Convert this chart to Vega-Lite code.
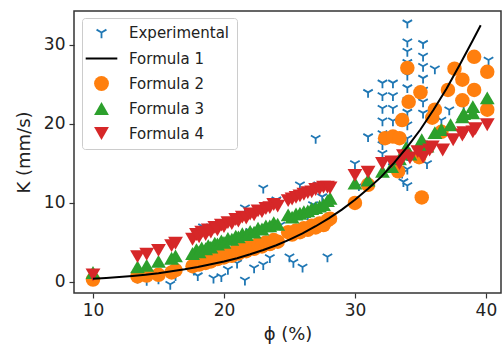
{
"$schema": "https://vega.github.io/schema/vega-lite/v6.json",
"autosize": "none",
"width": 427, "height": 282,
"padding": {"left": 74, "top": 11, "right": 3, "bottom": 57},
"background": "white",
"datasets": {
"exp": [
{"phi":10.0,"K":0.3,"s":"Experimental"},{"phi":13.4,"K":0.5,"s":"Experimental"},{"phi":14.1,"K":0.2,"s":"Experimental"},{"phi":15.0,"K":0.4,"s":"Experimental"},{"phi":15.9,"K":-0.3,"s":"Experimental"},{"phi":16.3,"K":0.8,"s":"Experimental"},
{"phi":17.7,"K":1.5,"s":"Experimental"},{"phi":18.0,"K":0.8,"s":"Experimental"},{"phi":18.4,"K":7.0,"s":"Experimental"},{"phi":18.8,"K":3.2,"s":"Experimental"},{"phi":19.2,"K":0.5,"s":"Experimental"},{"phi":19.5,"K":4.6,"s":"Experimental"},{"phi":19.8,"K":0.7,"s":"Experimental"},
{"phi":20.3,"K":1.6,"s":"Experimental"},{"phi":20.6,"K":5.2,"s":"Experimental"},{"phi":21.0,"K":2.4,"s":"Experimental"},{"phi":21.6,"K":0.25,"s":"Experimental"},{"phi":21.6,"K":9.4,"s":"Experimental"},{"phi":22.0,"K":6.4,"s":"Experimental"},{"phi":22.3,"K":1.8,"s":"Experimental"},
{"phi":22.8,"K":4.6,"s":"Experimental"},{"phi":23.0,"K":11.9,"s":"Experimental"},{"phi":23.0,"K":2.2,"s":"Experimental"},{"phi":23.5,"K":3.1,"s":"Experimental"},{"phi":24.0,"K":10.4,"s":"Experimental"},{"phi":24.3,"K":7.2,"s":"Experimental"},{"phi":25.0,"K":3.2,"s":"Experimental"},
{"phi":25.3,"K":2.5,"s":"Experimental"},{"phi":25.8,"K":12.3,"s":"Experimental"},{"phi":26.0,"K":1.9,"s":"Experimental"},{"phi":26.4,"K":8.5,"s":"Experimental"},{"phi":26.8,"K":9.8,"s":"Experimental"},{"phi":27.0,"K":18.2,"s":"Experimental"},{"phi":27.2,"K":12.3,"s":"Experimental"},
{"phi":27.5,"K":10.8,"s":"Experimental"},{"phi":27.9,"K":3.2,"s":"Experimental"},{"phi":30.0,"K":15.0,"s":"Experimental"},{"phi":30.3,"K":12.2,"s":"Experimental"},{"phi":31.0,"K":18.4,"s":"Experimental"},{"phi":31.0,"K":24.0,"s":"Experimental"},
{"phi":32.1,"K":25.2,"s":"Experimental"},{"phi":32.1,"K":23.6,"s":"Experimental"},{"phi":32.1,"K":22.0,"s":"Experimental"},{"phi":32.1,"K":20.4,"s":"Experimental"},{"phi":32.1,"K":18.8,"s":"Experimental"},{"phi":32.1,"K":17.4,"s":"Experimental"},{"phi":32.1,"K":16.3,"s":"Experimental"},
{"phi":32.9,"K":25.2,"s":"Experimental"},{"phi":32.9,"K":23.6,"s":"Experimental"},{"phi":32.9,"K":22.0,"s":"Experimental"},{"phi":32.9,"K":20.4,"s":"Experimental"},{"phi":32.9,"K":18.6,"s":"Experimental"},{"phi":32.9,"K":14.6,"s":"Experimental"},
{"phi":33.6,"K":13.8,"s":"Experimental"},{"phi":33.7,"K":12.7,"s":"Experimental"},
{"phi":34.0,"K":32.8,"s":"Experimental"},{"phi":34.0,"K":30.4,"s":"Experimental"},{"phi":34.0,"K":29.2,"s":"Experimental"},{"phi":34.0,"K":27.8,"s":"Experimental"},{"phi":34.0,"K":26.2,"s":"Experimental"},{"phi":34.0,"K":24.6,"s":"Experimental"},{"phi":34.0,"K":23.0,"s":"Experimental"},
{"phi":34.0,"K":21.5,"s":"Experimental"},{"phi":34.0,"K":19.9,"s":"Experimental"},{"phi":34.0,"K":18.2,"s":"Experimental"},{"phi":34.0,"K":16.0,"s":"Experimental"},{"phi":34.0,"K":14.3,"s":"Experimental"},{"phi":34.0,"K":12.2,"s":"Experimental"},
{"phi":35.2,"K":30.2,"s":"Experimental"},{"phi":35.2,"K":28.6,"s":"Experimental"},{"phi":35.2,"K":27.3,"s":"Experimental"},{"phi":35.2,"K":25.8,"s":"Experimental"},{"phi":35.2,"K":24.3,"s":"Experimental"},{"phi":35.2,"K":22.8,"s":"Experimental"},{"phi":35.2,"K":21.4,"s":"Experimental"},
{"phi":35.5,"K":15.0,"s":"Experimental"},{"phi":36.1,"K":27.0,"s":"Experimental"},{"phi":36.6,"K":20.5,"s":"Experimental"},{"phi":37.2,"K":21.8,"s":"Experimental"},{"phi":38.3,"K":22.3,"s":"Experimental"},{"phi":40.2,"K":28.1,"s":"Experimental"}
],
"f2": [
{"phi":10.0,"K":0.3,"s":"Formula 2"},{"phi":13.4,"K":0.7,"s":"Formula 2"},{"phi":14.1,"K":0.8,"s":"Formula 2"},{"phi":15.0,"K":0.9,"s":"Formula 2"},{"phi":16.0,"K":1.2,"s":"Formula 2"},{"phi":16.3,"K":1.5,"s":"Formula 2"},
{"phi":17.6,"K":2.0,"s":"Formula 2"},{"phi":17.9,"K":2.6,"s":"Formula 2"},{"phi":18.1,"K":2.2,"s":"Formula 2"},{"phi":18.3,"K":2.7,"s":"Formula 2"},{"phi":18.6,"K":2.4,"s":"Formula 2"},{"phi":18.8,"K":3.0,"s":"Formula 2"},{"phi":19.0,"K":2.6,"s":"Formula 2"},
{"phi":19.3,"K":3.2,"s":"Formula 2"},{"phi":19.5,"K":2.9,"s":"Formula 2"},{"phi":19.8,"K":3.4,"s":"Formula 2"},{"phi":20.0,"K":3.1,"s":"Formula 2"},{"phi":20.3,"K":3.6,"s":"Formula 2"},{"phi":20.6,"K":3.3,"s":"Formula 2"},{"phi":20.9,"K":3.9,"s":"Formula 2"},
{"phi":21.1,"K":3.6,"s":"Formula 2"},{"phi":21.4,"K":4.2,"s":"Formula 2"},{"phi":21.7,"K":3.9,"s":"Formula 2"},{"phi":22.0,"K":4.5,"s":"Formula 2"},{"phi":22.3,"K":4.2,"s":"Formula 2"},{"phi":22.6,"K":4.8,"s":"Formula 2"},{"phi":22.9,"K":4.5,"s":"Formula 2"},
{"phi":23.2,"K":5.0,"s":"Formula 2"},{"phi":23.5,"K":4.8,"s":"Formula 2"},{"phi":23.8,"K":5.3,"s":"Formula 2"},{"phi":24.1,"K":5.1,"s":"Formula 2"},{"phi":24.9,"K":6.3,"s":"Formula 2"},{"phi":25.2,"K":6.0,"s":"Formula 2"},{"phi":25.5,"K":6.5,"s":"Formula 2"},
{"phi":25.8,"K":6.3,"s":"Formula 2"},{"phi":26.1,"K":6.8,"s":"Formula 2"},{"phi":26.4,"K":6.6,"s":"Formula 2"},{"phi":26.7,"K":7.1,"s":"Formula 2"},{"phi":27.0,"K":6.9,"s":"Formula 2"},{"phi":27.3,"K":7.4,"s":"Formula 2"},{"phi":27.6,"K":7.2,"s":"Formula 2"},
{"phi":27.9,"K":7.8,"s":"Formula 2"},{"phi":28.1,"K":8.0,"s":"Formula 2"},
{"phi":30.0,"K":10.0,"s":"Formula 2"},{"phi":31.0,"K":12.3,"s":"Formula 2"},{"phi":32.3,"K":18.2,"s":"Formula 2"},{"phi":32.9,"K":18.4,"s":"Formula 2"},{"phi":33.4,"K":18.2,"s":"Formula 2"},{"phi":33.6,"K":20.5,"s":"Formula 2"},{"phi":34.0,"K":27.1,"s":"Formula 2"},
{"phi":34.1,"K":22.8,"s":"Formula 2"},{"phi":34.9,"K":15.8,"s":"Formula 2"},{"phi":35.0,"K":24.0,"s":"Formula 2"},{"phi":35.1,"K":10.7,"s":"Formula 2"},{"phi":35.9,"K":20.8,"s":"Formula 2"},{"phi":36.1,"K":21.8,"s":"Formula 2"},{"phi":37.1,"K":24.3,"s":"Formula 2"},
{"phi":37.6,"K":27.0,"s":"Formula 2"},{"phi":38.2,"K":25.6,"s":"Formula 2"},{"phi":38.2,"K":23.0,"s":"Formula 2"},{"phi":39.1,"K":24.3,"s":"Formula 2"},{"phi":39.1,"K":28.5,"s":"Formula 2"},{"phi":40.1,"K":26.6,"s":"Formula 2"},{"phi":40.1,"K":21.8,"s":"Formula 2"},
{"phi":36.6,"K":19.0,"s":"Formula 2"},{"phi":33.3,"K":14.0,"s":"Formula 2"}
],
"f3": [
{"phi":10.0,"K":1.2,"s":"Formula 3"},{"phi":13.4,"K":1.9,"s":"Formula 3"},{"phi":14.1,"K":2.1,"s":"Formula 3"},{"phi":15.0,"K":2.6,"s":"Formula 3"},{"phi":16.0,"K":3.0,"s":"Formula 3"},{"phi":16.3,"K":3.3,"s":"Formula 3"},
{"phi":17.6,"K":3.6,"s":"Formula 3"},{"phi":17.9,"K":4.1,"s":"Formula 3"},{"phi":18.1,"K":3.8,"s":"Formula 3"},{"phi":18.3,"K":4.3,"s":"Formula 3"},{"phi":18.6,"K":4.2,"s":"Formula 3"},{"phi":18.8,"K":4.6,"s":"Formula 3"},{"phi":19.0,"K":4.4,"s":"Formula 3"},
{"phi":19.3,"K":4.9,"s":"Formula 3"},{"phi":19.5,"K":4.8,"s":"Formula 3"},{"phi":19.8,"K":5.2,"s":"Formula 3"},{"phi":20.0,"K":5.0,"s":"Formula 3"},{"phi":20.3,"K":5.5,"s":"Formula 3"},{"phi":20.6,"K":5.4,"s":"Formula 3"},{"phi":20.9,"K":5.8,"s":"Formula 3"},
{"phi":21.1,"K":5.7,"s":"Formula 3"},{"phi":21.4,"K":6.1,"s":"Formula 3"},{"phi":21.7,"K":6.0,"s":"Formula 3"},{"phi":22.0,"K":6.4,"s":"Formula 3"},{"phi":22.3,"K":6.3,"s":"Formula 3"},{"phi":22.6,"K":6.8,"s":"Formula 3"},{"phi":22.9,"K":6.7,"s":"Formula 3"},
{"phi":23.2,"K":7.1,"s":"Formula 3"},{"phi":23.5,"K":7.1,"s":"Formula 3"},{"phi":23.8,"K":7.5,"s":"Formula 3"},{"phi":24.1,"K":7.3,"s":"Formula 3"},{"phi":24.9,"K":8.5,"s":"Formula 3"},{"phi":25.2,"K":8.2,"s":"Formula 3"},{"phi":25.5,"K":8.6,"s":"Formula 3"},
{"phi":25.8,"K":8.7,"s":"Formula 3"},{"phi":26.1,"K":8.9,"s":"Formula 3"},{"phi":26.4,"K":9.0,"s":"Formula 3"},{"phi":26.7,"K":9.3,"s":"Formula 3"},{"phi":27.0,"K":9.4,"s":"Formula 3"},{"phi":27.3,"K":9.6,"s":"Formula 3"},{"phi":27.6,"K":9.8,"s":"Formula 3"},
{"phi":27.9,"K":10.3,"s":"Formula 3"},{"phi":28.1,"K":10.6,"s":"Formula 3"},
{"phi":30.0,"K":12.5,"s":"Formula 3"},{"phi":31.0,"K":12.9,"s":"Formula 3"},{"phi":32.1,"K":14.0,"s":"Formula 3"},{"phi":32.8,"K":14.6,"s":"Formula 3"},{"phi":33.4,"K":15.6,"s":"Formula 3"},{"phi":33.9,"K":17.0,"s":"Formula 3"},{"phi":34.2,"K":16.2,"s":"Formula 3"},
{"phi":35.1,"K":18.0,"s":"Formula 3"},{"phi":35.5,"K":17.2,"s":"Formula 3"},{"phi":36.1,"K":18.9,"s":"Formula 3"},{"phi":36.6,"K":19.3,"s":"Formula 3"},{"phi":37.3,"K":19.9,"s":"Formula 3"},{"phi":38.2,"K":20.9,"s":"Formula 3"},{"phi":38.3,"K":21.3,"s":"Formula 3"},
{"phi":39.0,"K":21.4,"s":"Formula 3"},{"phi":39.0,"K":22.2,"s":"Formula 3"},{"phi":40.1,"K":23.3,"s":"Formula 3"}
],
"f4": [
{"phi":10.0,"K":0.9,"s":"Formula 4"},{"phi":13.4,"K":3.2,"s":"Formula 4"},{"phi":14.1,"K":3.5,"s":"Formula 4"},{"phi":15.0,"K":4.0,"s":"Formula 4"},{"phi":16.0,"K":4.6,"s":"Formula 4"},{"phi":16.3,"K":4.9,"s":"Formula 4"},
{"phi":17.6,"K":5.4,"s":"Formula 4"},{"phi":17.9,"K":6.0,"s":"Formula 4"},{"phi":18.1,"K":5.7,"s":"Formula 4"},{"phi":18.3,"K":6.3,"s":"Formula 4"},{"phi":18.6,"K":6.0,"s":"Formula 4"},{"phi":18.8,"K":6.6,"s":"Formula 4"},{"phi":19.0,"K":6.3,"s":"Formula 4"},
{"phi":19.3,"K":6.9,"s":"Formula 4"},{"phi":19.5,"K":6.6,"s":"Formula 4"},{"phi":19.8,"K":7.2,"s":"Formula 4"},{"phi":20.0,"K":7.0,"s":"Formula 4"},{"phi":20.3,"K":7.5,"s":"Formula 4"},{"phi":20.6,"K":7.4,"s":"Formula 4"},{"phi":20.9,"K":7.9,"s":"Formula 4"},
{"phi":21.1,"K":7.7,"s":"Formula 4"},{"phi":21.4,"K":8.2,"s":"Formula 4"},{"phi":21.7,"K":8.1,"s":"Formula 4"},{"phi":22.0,"K":8.6,"s":"Formula 4"},{"phi":22.3,"K":8.5,"s":"Formula 4"},{"phi":22.6,"K":9.0,"s":"Formula 4"},{"phi":22.9,"K":8.9,"s":"Formula 4"},
{"phi":23.2,"K":9.3,"s":"Formula 4"},{"phi":23.5,"K":9.4,"s":"Formula 4"},{"phi":23.8,"K":9.8,"s":"Formula 4"},{"phi":24.1,"K":9.6,"s":"Formula 4"},{"phi":24.9,"K":10.3,"s":"Formula 4"},{"phi":25.2,"K":10.5,"s":"Formula 4"},{"phi":25.5,"K":10.7,"s":"Formula 4"},
{"phi":25.8,"K":10.9,"s":"Formula 4"},{"phi":26.1,"K":11.1,"s":"Formula 4"},{"phi":26.4,"K":11.3,"s":"Formula 4"},{"phi":26.7,"K":11.4,"s":"Formula 4"},{"phi":27.0,"K":11.7,"s":"Formula 4"},{"phi":27.3,"K":11.8,"s":"Formula 4"},{"phi":27.6,"K":12.0,"s":"Formula 4"},
{"phi":27.9,"K":12.0,"s":"Formula 4"},{"phi":28.1,"K":11.9,"s":"Formula 4"},
{"phi":30.0,"K":13.5,"s":"Formula 4"},{"phi":31.0,"K":13.9,"s":"Formula 4"},{"phi":32.1,"K":15.0,"s":"Formula 4"},{"phi":32.8,"K":15.2,"s":"Formula 4"},{"phi":33.4,"K":15.0,"s":"Formula 4"},{"phi":33.7,"K":16.0,"s":"Formula 4"},{"phi":34.2,"K":15.7,"s":"Formula 4"},
{"phi":34.8,"K":16.5,"s":"Formula 4"},{"phi":35.2,"K":15.8,"s":"Formula 4"},{"phi":35.7,"K":16.7,"s":"Formula 4"},{"phi":35.9,"K":17.1,"s":"Formula 4"},{"phi":36.7,"K":16.7,"s":"Formula 4"},{"phi":37.5,"K":18.0,"s":"Formula 4"},{"phi":38.2,"K":18.6,"s":"Formula 4"},
{"phi":38.3,"K":18.9,"s":"Formula 4"},{"phi":39.0,"K":19.0,"s":"Formula 4"},{"phi":39.2,"K":19.4,"s":"Formula 4"},{"phi":40.1,"K":19.9,"s":"Formula 4"}
],
"f1": [
{"phi":10,"K":0.4,"s":"Formula 1"},{"phi":11,"K":0.5,"s":"Formula 1"},{"phi":12,"K":0.62,"s":"Formula 1"},{"phi":13,"K":0.75,"s":"Formula 1"},{"phi":14,"K":0.9,"s":"Formula 1"},{"phi":15,"K":1.1,"s":"Formula 1"},{"phi":16,"K":1.35,"s":"Formula 1"},
{"phi":17,"K":1.6,"s":"Formula 1"},{"phi":18,"K":1.9,"s":"Formula 1"},{"phi":19,"K":2.25,"s":"Formula 1"},{"phi":20,"K":2.6,"s":"Formula 1"},{"phi":21,"K":3.0,"s":"Formula 1"},{"phi":22,"K":3.5,"s":"Formula 1"},{"phi":23,"K":4.05,"s":"Formula 1"},
{"phi":24,"K":4.65,"s":"Formula 1"},{"phi":25,"K":5.35,"s":"Formula 1"},{"phi":26,"K":6.15,"s":"Formula 1"},{"phi":27,"K":7.05,"s":"Formula 1"},{"phi":28,"K":8.05,"s":"Formula 1"},{"phi":29,"K":9.15,"s":"Formula 1"},{"phi":30,"K":10.4,"s":"Formula 1"},
{"phi":31,"K":11.8,"s":"Formula 1"},{"phi":32,"K":13.3,"s":"Formula 1"},{"phi":33,"K":15.1,"s":"Formula 1"},{"phi":34,"K":17.1,"s":"Formula 1"},{"phi":35,"K":19.3,"s":"Formula 1"},{"phi":36,"K":21.8,"s":"Formula 1"},{"phi":37,"K":24.5,"s":"Formula 1"},
{"phi":38,"K":27.5,"s":"Formula 1"},{"phi":39,"K":30.6,"s":"Formula 1"},{"phi":39.6,"K":32.5,"s":"Formula 1"}
]
},
"encoding": {
"x": {"field": "phi", "type": "quantitative", "title": "ϕ (%)",
 "scale": {"domain": [8.55, 41.15], "nice": false, "zero": false},
 "axis": {"values": [10, 20, 30, 40], "titlePadding": 7}},
"y": {"field": "K", "type": "quantitative", "title": "K (mm/s)",
 "scale": {"domain": [-1.4, 34.3], "nice": false, "zero": false},
 "axis": {"values": [0, 10, 20, 30], "titlePadding": 10}},
"color": {"field": "s", "type": "nominal", "title": null,
 "scale": {"domain": ["Experimental", "Formula 1", "Formula 2", "Formula 3", "Formula 4"], "range": ["#1f77b4", "#000000", "#ff7f0e", "#2ca02c", "#d62728"]},
 "legend": {"encode": {"symbols": {"update": {
   "fill": {"signal": "datum.value === 'Experimental' || datum.value === 'Formula 1' ? 'transparent' : scale('color', datum.value)"},
   "stroke": {"signal": "scale('color', datum.value)"},
   "strokeWidth": {"signal": "datum.value === 'Experimental' ? 1.8 : datum.value === 'Formula 1' ? 2 : 0"},
   "size": {"signal": "datum.value === 'Formula 1' ? 1000 : datum.value === 'Experimental' ? 130 : 220"},
   "opacity": {"value": 1}}}}}}
},
"layer": [
{"data": {"name": "exp"},
 "mark": {"type": "point", "filled": false, "strokeWidth": 1.8, "size": 120, "opacity": 1},
 "encoding": {"shape": {"field": "s", "type": "nominal", "title": null,
  "scale": {"domain": ["Experimental", "Formula 1", "Formula 2", "Formula 3", "Formula 4"], "range": ["M0,0L0,1M0,0L-0.866,-0.5M0,0L0.866,-0.5", "stroke", "circle", "triangle-up", "triangle-down"]}}}},
{"data": {"name": "f2"},
 "mark": {"type": "point", "filled": true, "size": 210, "opacity": 1, "strokeWidth": 0},
 "encoding": {"shape": {"field": "s", "type": "nominal", "title": null}}},
{"data": {"name": "f3"},
 "mark": {"type": "point", "filled": true, "size": 220, "opacity": 1, "strokeWidth": 0},
 "encoding": {"shape": {"field": "s", "type": "nominal", "title": null}}},
{"data": {"name": "f4"},
 "mark": {"type": "point", "filled": true, "size": 220, "opacity": 1, "strokeWidth": 0},
 "encoding": {"shape": {"field": "s", "type": "nominal", "title": null}}},
{"data": {"name": "f1"},
 "mark": {"type": "line", "strokeWidth": 2}}
],
"config": {
 "font": "DejaVu Sans",
 "view": {"stroke": "#333", "strokeWidth": 1.5},
 "axis": {"labelFont": "DejaVu Sans", "labelFontSize": 17, "labelColor": "#222", "titleFont": "DejaVu Sans", "titleFontSize": 18,
  "titleFontWeight": "normal", "titleColor": "#222", "tickColor": "#333", "tickSize": 5, "tickWidth": 1.2, "domain": false, "grid": false, "labelPadding": 4},
 "legend": {"orient": "none", "legendX": 8, "legendY": 7, "labelFont": "DejaVu Sans", "labelFontSize": 15, "labelColor": "#222",
  "padding": 7, "symbolOffset": 5, "labelOffset": 20, "rowPadding": 9, "symbolSize": 250, "fillColor": "white", "strokeColor": "#ccc", "cornerRadius": 3}
}
}
